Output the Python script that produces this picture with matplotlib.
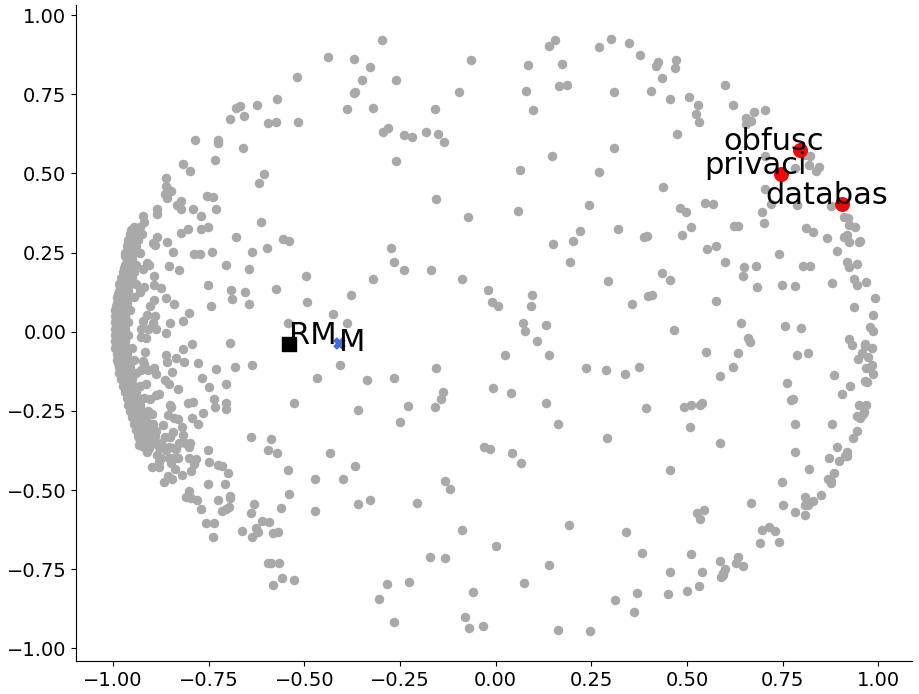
import matplotlib
matplotlib.use("Agg")
import matplotlib.pyplot as plt

# gray points (x, y)
upper_left = [(-0.571, 0.734), (-0.623, 0.715), (-0.679, 0.708), (-0.668, 0.712), (-0.694, 0.671),
              (-0.657, 0.681), (-0.595, 0.658), (-0.574, 0.664), (-0.785, 0.604), (-0.725, 0.607),
              (-0.725, 0.595), (-0.660, 0.579), (-0.817, 0.531), (-0.799, 0.509), (-0.733, 0.541),
              (-0.861, 0.487), (-0.862, 0.459), (-0.848, 0.443), (-0.864, 0.436), (-0.859, 0.421),
              (-0.605, 0.497), (-0.619, 0.471), (-0.755, 0.430), (-0.738, 0.427), (-0.822, 0.412),
              (-0.833, 0.400), (-0.822, 0.389), (-0.791, 0.389), (-0.731, 0.387), (-0.886, 0.387),
              (-0.886, 0.372), (-0.921, 0.364), (-0.919, 0.347), (-0.770, 0.364), (-0.613, 0.345)]

upper_mid = [(-0.296, 0.920), (-0.438, 0.869), (-0.370, 0.861), (-0.328, 0.835), (-0.519, 0.803),
             (-0.349, 0.794), (-0.260, 0.794), (-0.064, 0.857), (-0.368, 0.757), (-0.370, 0.754),
             (-0.096, 0.756), (-0.388, 0.702), (-0.320, 0.708), (-0.158, 0.702), (-0.516, 0.662),
             (-0.295, 0.632), (-0.281, 0.642), (-0.239, 0.620), (-0.218, 0.614), (-0.182, 0.632),
             (-0.150, 0.623), (-0.134, 0.598), (-0.260, 0.538), (-0.155, 0.418), (-0.072, 0.361)]

upper_right = [(0.156, 0.923), (0.140, 0.901), (0.300, 0.926), (0.271, 0.898), (0.349, 0.911),
               (0.085, 0.844), (0.172, 0.847), (0.378, 0.873), (0.423, 0.852), (0.420, 0.838),
               (0.472, 0.857), (0.469, 0.832), (0.435, 0.800), (0.080, 0.759), (0.166, 0.775),
               (0.185, 0.778), (0.310, 0.756), (0.407, 0.759), (0.456, 0.734), (0.506, 0.740),
               (0.529, 0.715), (0.524, 0.689), (0.532, 0.664), (0.098, 0.699), (0.475, 0.626),
               (0.310, 0.579), (0.148, 0.554), (0.064, 0.512), (0.271, 0.503), (0.438, 0.456),
               (0.059, 0.380), (0.245, 0.399), (0.482, 0.392), (0.498, 0.377), (0.548, 0.408),
               (0.600, 0.778), (0.619, 0.715), (0.674, 0.693), (0.705, 0.699), (0.653, 0.674),
               (0.668, 0.667), (0.655, 0.655), (0.809, 0.558), (0.822, 0.556), (0.705, 0.556),
               (0.782, 0.518), (0.818, 0.528), (0.844, 0.519), (0.836, 0.509), (0.705, 0.450),
               (0.719, 0.402), (0.788, 0.399), (0.875, 0.396), (0.569, 0.402), (0.696, 0.377),
               (0.910, 0.362), (0.920, 0.358), (0.700, 0.344)]

mid_left = [(-0.803, 0.326), (-0.770, 0.326), (-0.752, 0.332), (-0.822, 0.311), (-0.678, 0.298),
            (-0.597, 0.266), (-0.556, 0.292), (-0.886, 0.298), (-0.859, 0.282), (-0.896, 0.279),
            (-0.891, 0.273), (-0.843, 0.251), (-0.788, 0.244), (-0.772, 0.244), (-0.741, 0.251),
            (-0.637, 0.251), (-0.704, 0.210), (-0.644, 0.197), (-0.853, 0.206), (-0.827, 0.194),
            (-0.911, 0.216), (-0.906, 0.210), (-0.921, 0.197), (-0.893, 0.175), (-0.752, 0.149),
            (-0.691, 0.131), (-0.655, 0.124), (-0.575, 0.135), (-0.689, 0.102), (-0.644, 0.086),
            (-0.744, 0.080), (-0.893, 0.146), (-0.874, 0.137), (-0.929, 0.137), (-0.919, 0.140),
            (-0.929, 0.127), (-0.861, 0.105), (-0.893, 0.099), (-0.904, 0.080), (-0.840, 0.086),
            (-0.801, 0.058), (-0.911, 0.052), (-0.891, 0.049), (-0.817, 0.033), (-0.851, 0.029),
            (-0.895, 0.026), (-0.887, 0.010), (-0.921, 0.033), (-0.927, 0.010), (-0.908, 0.007),
            (-0.861, -0.005), (-0.927, -0.018), (-0.914, -0.021), (-0.793, -0.040), (-0.695, -0.037),
            (-0.817, -0.056), (-0.916, -0.065), (-0.861, -0.075), (-0.859, -0.097), (-0.835, -0.084),
            (-0.814, -0.097), (-0.778, -0.100), (-0.921, -0.094), (-0.919, -0.103), (-0.731, -0.119),
            (-0.681, -0.113), (-0.637, -0.106), (-0.927, -0.122), (-0.908, -0.122), (-0.893, -0.116),
            (-0.887, -0.135), (-0.846, -0.128), (-0.767, -0.147), (-0.704, -0.166), (-0.864, -0.154),
            (-0.853, -0.166), (-0.749, -0.176), (-0.830, -0.182), (-0.913, -0.166), (-0.887, -0.201),
            (-0.880, -0.198), (-0.903, -0.211), (-0.736, -0.214), (-0.733, -0.239), (-0.704, -0.226),
            (-0.704, -0.245), (-0.804, -0.226), (-0.791, -0.223), (-0.851, -0.233), (-0.848, -0.239),
            (-0.765, -0.258), (-0.793, -0.271), (-0.856, -0.264), (-0.840, -0.274), (-0.830, -0.277),
            (-0.898, -0.261), (-0.914, -0.268), (-0.778, -0.290), (-0.869, -0.296), (-0.819, -0.302),
            (-0.895, -0.293), (-0.908, -0.305), (-0.887, -0.315), (-0.817, -0.327), (-0.864, -0.331),
            (-0.843, -0.318), (-0.851, -0.334), (-0.639, -0.334), (-0.587, -0.340), (-0.829, -0.350),
            (-0.812, -0.350), (-0.798, -0.350), (-0.932, -0.337), (-0.919, -0.343), (-0.906, -0.337),
            (-0.893, -0.343), (-0.874, -0.350)]

# the dense band along the left edge
band = [(-0.930, 0.33), (-0.945, 0.33), (-0.940, 0.31), (-0.955, 0.31), (-0.925, 0.31),
        (-0.950, 0.29), (-0.935, 0.29), (-0.960, 0.29), (-0.955, 0.27), (-0.940, 0.27),
        (-0.965, 0.27), (-0.960, 0.25), (-0.945, 0.25), (-0.970, 0.25), (-0.930, 0.25),
        (-0.965, 0.23), (-0.950, 0.23), (-0.970, 0.21), (-0.955, 0.21), (-0.940, 0.21),
        (-0.975, 0.19), (-0.960, 0.19), (-0.945, 0.19), (-0.980, 0.17), (-0.965, 0.17),
        (-0.950, 0.17), (-0.985, 0.15), (-0.970, 0.15), (-0.955, 0.15), (-0.940, 0.15),
        (-0.985, 0.13), (-0.970, 0.13), (-0.960, 0.13), (-0.990, 0.11), (-0.975, 0.11),
        (-0.960, 0.11), (-0.945, 0.11), (-0.990, 0.09), (-0.980, 0.09), (-0.965, 0.09),
        (-0.995, 0.07), (-0.980, 0.07), (-0.970, 0.07), (-0.955, 0.07), (-0.995, 0.05),
        (-0.985, 0.05), (-0.970, 0.05), (-0.995, 0.03), (-0.985, 0.03), (-0.975, 0.03),
        (-0.960, 0.03), (-0.995, 0.01), (-0.985, 0.01), (-0.970, 0.01), (-0.995, -0.01),
        (-0.985, -0.01), (-0.975, -0.01), (-0.960, -0.01), (-0.995, -0.03), (-0.985, -0.03),
        (-0.970, -0.03), (-0.995, -0.05), (-0.980, -0.05), (-0.965, -0.05), (-0.950, -0.05),
        (-0.990, -0.07), (-0.980, -0.07), (-0.965, -0.07), (-0.990, -0.09), (-0.975, -0.09),
        (-0.960, -0.09), (-0.945, -0.09), (-0.985, -0.11), (-0.970, -0.11), (-0.955, -0.11),
        (-0.985, -0.13), (-0.970, -0.13), (-0.955, -0.13), (-0.940, -0.13), (-0.980, -0.15),
        (-0.965, -0.15), (-0.950, -0.15), (-0.975, -0.17), (-0.960, -0.17), (-0.945, -0.17),
        (-0.930, -0.17), (-0.970, -0.19), (-0.955, -0.19), (-0.940, -0.19), (-0.965, -0.21),
        (-0.950, -0.21), (-0.935, -0.21), (-0.920, -0.21), (-0.960, -0.23), (-0.945, -0.23),
        (-0.930, -0.23), (-0.955, -0.25), (-0.940, -0.25), (-0.925, -0.25), (-0.910, -0.25),
        (-0.950, -0.27), (-0.935, -0.27), (-0.920, -0.27), (-0.945, -0.29), (-0.930, -0.29),
        (-0.915, -0.29), (-0.900, -0.29), (-0.940, -0.31), (-0.925, -0.31), (-0.910, -0.31),
        (-0.935, -0.33), (-0.920, -0.33), (-0.905, -0.33), (-0.890, -0.33), (-0.925, -0.35),
        (-0.910, -0.35), (-0.895, -0.35)]

# in-between rows of the band, it looks solid in the picture
band_fill = [(-0.952, 0.32), (-0.938, 0.30), (-0.962, 0.28), (-0.948, 0.26), (-0.968, 0.24),
             (-0.958, 0.22), (-0.972, 0.20), (-0.955, 0.18), (-0.978, 0.16), (-0.962, 0.14),
             (-0.988, 0.12), (-0.968, 0.10), (-0.992, 0.08), (-0.975, 0.06), (-0.990, 0.04),
             (-0.978, 0.02), (-0.990, 0.00), (-0.978, -0.02), (-0.992, -0.04), (-0.972, -0.04),
             (-0.985, -0.06), (-0.972, -0.08), (-0.988, -0.10), (-0.962, -0.10), (-0.978, -0.12),
             (-0.962, -0.14), (-0.972, -0.16), (-0.955, -0.16), (-0.962, -0.18), (-0.948, -0.20),
             (-0.958, -0.22), (-0.938, -0.22), (-0.948, -0.24), (-0.935, -0.26), (-0.942, -0.28),
             (-0.922, -0.28), (-0.932, -0.30), (-0.918, -0.32), (-0.928, -0.34), (-0.902, -0.34)]

center = [(-0.540, 0.288), (-0.273, 0.263), (-0.265, 0.219), (-0.239, 0.194), (-0.168, 0.194),
          (-0.087, 0.168), (-0.020, 0.131), (-0.009, 0.093), (-0.495, 0.175), (-0.320, 0.165),
          (-0.377, 0.115), (-0.492, 0.093), (-0.425, 0.055), (-0.388, 0.029), (-0.542, 0.026),
          (-0.406, -0.106), (-0.466, -0.147), (-0.336, -0.154), (-0.265, -0.147), (-0.155, -0.116),
          (-0.137, -0.192), (-0.142, -0.211), (-0.006, -0.179), (-0.526, -0.226), (-0.359, -0.248),
          (-0.229, -0.236), (-0.158, -0.239), (-0.249, -0.286),
          (0.219, 0.317), (0.319, 0.323), (0.388, 0.298), (0.396, 0.301), (0.488, 0.304),
          (0.511, 0.330), (0.149, 0.276), (0.203, 0.288), (0.195, 0.219), (0.435, 0.184),
          (0.456, 0.162), (0.294, 0.159), (0.096, 0.115), (0.007, 0.080), (0.093, 0.080),
          (0.399, 0.112), (0.409, 0.115), (0.357, 0.086), (0.070, 0.026), (0.077, 0.001),
          (0.132, 0.020), (0.109, -0.030), (0.467, 0.004), (0.025, -0.075), (0.140, -0.072),
          (0.237, -0.116), (0.289, -0.122), (0.339, -0.135), (0.375, -0.113), (0.041, -0.195),
          (0.132, -0.226), (0.394, -0.242), (0.493, -0.239), (0.511, -0.230), (0.535, -0.233),
          (0.540, -0.226), (0.164, -0.293), (0.509, -0.302), (0.292, -0.337)]

right = [(0.624, 0.334), (0.633, 0.334), (0.811, 0.328), (0.830, 0.315), (0.867, 0.295),
         (0.911, 0.300), (0.917, 0.305), (0.924, 0.282), (0.953, 0.287), (0.950, 0.282),
         (0.922, 0.337), (0.940, 0.332), (0.893, 0.254), (0.553, 0.261), (0.577, 0.270),
         (0.741, 0.244), (0.598, 0.219), (0.650, 0.203), (0.681, 0.209), (0.645, 0.175),
         (0.802, 0.206), (0.822, 0.208), (0.919, 0.219), (0.924, 0.203), (0.943, 0.213),
         (0.937, 0.168), (0.945, 0.146), (0.969, 0.156), (0.684, 0.140), (0.749, 0.149),
         (0.782, 0.143), (0.880, 0.153), (0.992, 0.108), (0.577, 0.096), (0.937, 0.077),
         (0.987, 0.052), (0.642, 0.029), (0.755, 0.017), (0.799, 0.011), (0.979, 0.015),
         (0.987, 0.001), (0.660, -0.021), (0.664, -0.031), (0.924, -0.024), (0.930, -0.043),
         (0.964, -0.040), (0.964, -0.046), (0.984, -0.053), (0.956, -0.068), (0.974, -0.081),
         (0.948, -0.087), (0.550, -0.065), (0.634, -0.068), (0.788, -0.075), (0.817, -0.068),
         (0.621, -0.113), (0.587, -0.141), (0.984, -0.106), (0.969, -0.116), (0.977, -0.116),
         (0.987, -0.135), (0.885, -0.138), (0.964, -0.157), (0.971, -0.160), (0.760, -0.163),
         (0.927, -0.173), (0.906, -0.198), (0.773, -0.217), (0.778, -0.214), (0.950, -0.230),
         (0.969, -0.233), (0.943, -0.267), (0.953, -0.274), (0.961, -0.261), (0.963, -0.255),
         (0.783, -0.290), (0.880, -0.293), (0.943, -0.315), (0.935, -0.337), (0.587, -0.350)]

lower_left = [(-0.932, -0.358), (-0.919, -0.363), (-0.906, -0.368), (-0.911, -0.379), (-0.880, -0.363),
              (-0.869, -0.368), (-0.853, -0.363), (-0.840, -0.368), (-0.862, -0.374), (-0.885, -0.389),
              (-0.874, -0.400), (-0.853, -0.400), (-0.840, -0.400), (-0.830, -0.400), (-0.880, -0.410),
              (-0.898, -0.428), (-0.880, -0.428), (-0.848, -0.416), (-0.838, -0.435), (-0.801, -0.363),
              (-0.835, -0.370), (-0.801, -0.400), (-0.783, -0.403), (-0.788, -0.419), (-0.796, -0.441),
              (-0.819, -0.454), (-0.856, -0.457), (-0.845, -0.466), (-0.866, -0.476), (-0.752, -0.375),
              (-0.749, -0.413), (-0.725, -0.422), (-0.715, -0.425), (-0.699, -0.447), (-0.707, -0.482),
              (-0.752, -0.482), (-0.694, -0.520), (-0.694, -0.526), (-0.725, -0.533), (-0.801, -0.504),
              (-0.809, -0.523), (-0.796, -0.526), (-0.780, -0.530), (-0.770, -0.561), (-0.715, -0.567),
              (-0.704, -0.561), (-0.697, -0.555), (-0.757, -0.605), (-0.736, -0.605), (-0.738, -0.650),
              (-0.631, -0.545), (-0.639, -0.574), (-0.612, -0.599), (-0.592, -0.602), (-0.663, -0.631),
              (-0.637, -0.650), (-0.626, -0.621), (-0.621, -0.634), (-0.582, -0.637), (-0.569, -0.634),
              (-0.561, -0.558), (-0.595, -0.375), (-0.571, -0.384), (-0.595, -0.732), (-0.587, -0.729),
              (-0.566, -0.729), (-0.558, -0.779), (-0.582, -0.801)]

lower_mid = [(-0.544, -0.438), (-0.432, -0.384), (-0.367, -0.425), (-0.472, -0.466), (-0.398, -0.466),
             (-0.540, -0.514), (-0.472, -0.567), (-0.359, -0.545), (-0.328, -0.530), (-0.205, -0.542),
             (-0.132, -0.473), (-0.119, -0.498), (-0.030, -0.365), (-0.014, -0.372), (-0.088, -0.627),
             (-0.171, -0.713), (-0.132, -0.716), (-0.526, -0.785), (-0.283, -0.798), (-0.226, -0.792),
             (-0.304, -0.845), (-0.265, -0.918), (-0.059, -0.823), (-0.080, -0.902), (-0.069, -0.937),
             (-0.033, -0.931)]

lower_right = [(0.043, -0.384), (0.067, -0.416), (0.456, -0.438), (0.001, -0.678), (0.192, -0.612),
               (0.341, -0.634), (0.383, -0.700), (0.140, -0.738), (0.075, -0.795), (0.313, -0.849),
               (0.368, -0.826), (0.362, -0.886), (0.449, -0.830), (0.456, -0.760), (0.501, -0.820),
               (0.511, -0.703), (0.527, -0.574), (0.535, -0.593), (0.545, -0.564), (0.540, -0.760),
               (0.532, -0.804), (0.164, -0.943), (0.247, -0.946),
               (0.781, -0.381), (0.893, -0.363), (0.917, -0.381), (0.917, -0.394), (0.914, -0.394),
               (0.872, -0.400), (0.896, -0.409), (0.820, -0.435), (0.883, -0.447), (0.869, -0.466),
               (0.875, -0.479), (0.875, -0.473), (0.749, -0.476), (0.849, -0.517), (0.828, -0.536),
               (0.807, -0.523), (0.809, -0.548), (0.815, -0.548), (0.752, -0.548), (0.783, -0.571),
               (0.807, -0.580), (0.666, -0.542), (0.697, -0.627), (0.715, -0.618), (0.731, -0.631),
               (0.692, -0.668), (0.741, -0.665), (0.585, -0.725), (0.634, -0.713), (0.629, -0.732),
               (0.647, -0.741), (0.600, -0.751), (0.595, -0.763), (0.590, -0.776), (0.593, -0.769)]

# highlighted words
words = ["obfusc", "privaci", "databas"]
word_x = [0.794, 0.745, 0.905]
word_y = [0.573, 0.497, 0.403]

# RM and M points
rm_x, rm_y = -0.540, -0.039
m_x, m_y = -0.410, -0.037

gray = (upper_left + upper_mid + upper_right + mid_left + band + band_fill + center + right
        + lower_left + lower_mid + lower_right)
gx = [p[0] for p in gray]
gy = [p[1] for p in gray]

fig = plt.figure(figsize=(9.19, 6.94), dpi=100)
ax = fig.add_axes([0.0827, 0.0476, 0.9097, 0.9452])

ax.scatter(gx, gy, s=34, color="darkgray", zorder=1)
ax.scatter(word_x, word_y, s=95, color="red", zorder=2)
for w, x, y in zip(words, word_x, word_y):
    ax.text(x - 0.2, y, w, fontsize=22, va="baseline", ha="left", zorder=4)

ax.scatter([rm_x], [rm_y], s=90, marker="s", color="black", zorder=3)
ax.text(rm_x, rm_y, "RM", fontsize=22, va="baseline", ha="left", zorder=4)
ax.scatter([m_x], [m_y], s=60, marker="X", color="royalblue", zorder=3)
ax.text(m_x, m_y - 0.025, "M", fontsize=22, va="baseline", ha="left", zorder=4)

ax.set_xlim(-1.097, 1.088)
ax.set_ylim(-1.040, 1.032)
ax.set_xticks([-1.0, -0.75, -0.5, -0.25, 0.0, 0.25, 0.5, 0.75, 1.0])
ax.set_yticks([-1.0, -0.75, -0.5, -0.25, 0.0, 0.25, 0.5, 0.75, 1.0])
ax.tick_params(labelsize=14)
ax.spines["top"].set_visible(False)
ax.spines["right"].set_visible(False)

fig.savefig("out.png", dpi=100)
